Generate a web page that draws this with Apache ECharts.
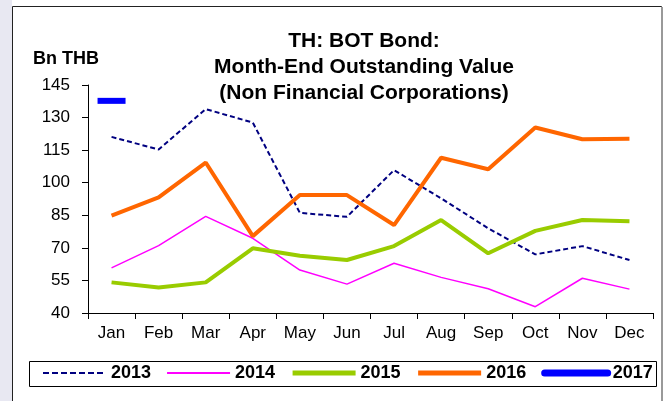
<!DOCTYPE html>
<html>
<head>
<meta charset="utf-8">
<script src="https://cdn.jsdelivr.net/npm/echarts@6/dist/echarts.min.js"></script>
<style>
  html, body { margin: 0; padding: 0; background: #fff; }
  #chart { width: 670px; height: 401px; }
</style>
</head>
<body>
<div id="chart"></div>
<script>
const months = ["Jan", "Feb", "Mar", "Apr", "May", "Jun", "Jul", "Aug", "Sep", "Oct", "Nov", "Dec"];
const y2013 = [121.1, 115.3, 133.9, 127.7, 86.1, 84.3, 105.8, 92.8, 79.0, 67.0, 70.8, 64.4];
const y2014 = [60.8, 71.0, 84.5, 74.4, 59.8, 53.3, 62.9, 56.4, 51.2, 42.9, 56.0, 51.0];
const y2015 = [54.1, 51.7, 54.1, 69.8, 66.4, 64.4, 70.8, 82.8, 67.5, 77.8, 82.8, 82.3];
const y2016 = [84.8, 93.2, 109.3, 75.4, 94.3, 94.3, 80.5, 111.5, 106.2, 125.4, 120.0, 120.2];
const y2017 = [137.7, null, null, null, null, null, null, null, null, null, null, null];
const titleLines = ["TH: BOT Bond:", "Month-End Outstanding Value", "(Non Financial Corporations)"];

const font = "Liberation Sans, Arial, sans-serif";
const chart = echarts.init(document.getElementById("chart"), null, { renderer: "canvas" });

const titleGraphics = titleLines.map((t, i) => ({
  type: "text",
  x: 364,
  y: 41.5 + i * 26,
  style: {
    text: t, font: "bold 21px " + font, fill: "#000",
    align: "center", verticalAlign: "middle",
  },
}));

const option = {
  backgroundColor: "#fff",
  animation: false,
  graphic: [
    // lavender strip on the left, outer frame
    { type: "rect", shape: { x: 0, y: 0, width: 12, height: 401 }, style: { fill: "#e8e8f2" } },
    { type: "rect", shape: { x: 12.5, y: 6.5, width: 649, height: 400 }, style: { fill: "none", stroke: "#222", lineWidth: 1 } },
    { type: "line", shape: { x1: 662, y1: 7, x2: 662, y2: 401 }, style: { stroke: "#999", lineWidth: 2 } },
    // legend box
    { type: "rect", shape: { x: 29.5, y: 361.5, width: 627, height: 25 }, style: { fill: "none", stroke: "#000", lineWidth: 1 } },
    {
      type: "text", x: 33, y: 59,
      style: { text: "Bn THB", font: "bold 18px " + font, fill: "#000", verticalAlign: "middle" },
    },
    ...titleGraphics,
  ],
  legend: {
    left: 42,
    top: 364,
    padding: 0,
    itemWidth: 63,
    itemHeight: 14,
    itemGap: 15,
    itemStyle: { opacity: 0 },
    textStyle: { fontFamily: font, fontSize: 18, fontWeight: "bold", color: "#000" },
    data: [
      { name: "2013", lineStyle: { width: 2, type: [6, 3] } },
      { name: "2014", lineStyle: { width: 2 } },
      { name: "2015", lineStyle: { width: 5 } },
      { name: "2016", lineStyle: { width: 5 } },
      { name: "2017", lineStyle: { width: 7, cap: "round" } },
    ],
  },
  grid: { left: 88, right: 17, top: 85, bottom: 88, containLabel: false },
  xAxis: {
    type: "category",
    data: months,
    boundaryGap: true,
    axisLine: { lineStyle: { color: "#000", width: 1 } },
    axisTick: { show: true, alignWithLabel: false, length: 6, lineStyle: { color: "#000" } },
    axisLabel: { fontFamily: font, fontSize: 17, color: "#000", margin: 12, interval: 0 },
    splitLine: { show: false },
  },
  yAxis: {
    type: "value",
    min: 40,
    max: 145,
    interval: 15,
    axisLine: { show: true, lineStyle: { color: "#000", width: 1 } },
    axisTick: { show: true, length: 6, lineStyle: { color: "#000" } },
    axisLabel: { fontFamily: font, fontSize: 17, color: "#000", margin: 18 },
    splitLine: { show: false },
  },
  series: [
    {
      name: "2013", type: "line", data: y2013, showSymbol: false, symbol: "none",
      lineStyle: { color: "#000080", width: 2, type: [5, 3] }, itemStyle: { color: "#000080" },
    },
    {
      name: "2014", type: "line", data: y2014, showSymbol: false, symbol: "none",
      lineStyle: { color: "#ff00ff", width: 1.5 }, itemStyle: { color: "#ff00ff" },
    },
    {
      name: "2015", type: "line", data: y2015, showSymbol: false, symbol: "none",
      lineStyle: { color: "#99cc00", width: 4 }, itemStyle: { color: "#99cc00" },
    },
    {
      name: "2016", type: "line", data: y2016, showSymbol: false, symbol: "none",
      lineStyle: { color: "#ff6600", width: 4 }, itemStyle: { color: "#ff6600" },
    },
    {
      name: "2017", type: "line", data: y2017, showSymbol: true, symbol: "rect", symbolSize: [28, 6],
      lineStyle: { color: "#0000ff", width: 7, cap: "round" }, itemStyle: { color: "#0000ff" },
    },
  ],
};

chart.setOption(option);
</script>
</body>
</html>
